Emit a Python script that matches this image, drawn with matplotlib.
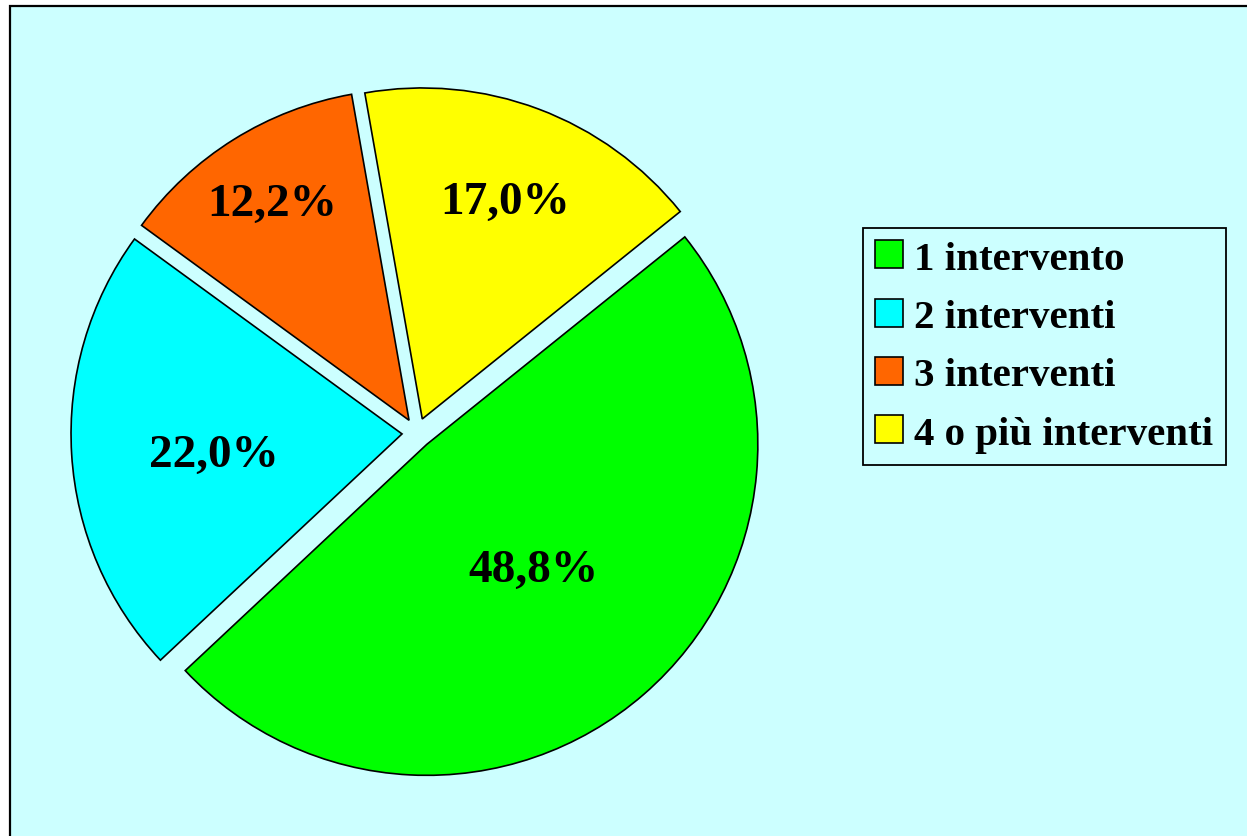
import numpy as np
import matplotlib
matplotlib.use("Agg")
import matplotlib.pyplot as plt
from matplotlib.patches import Rectangle

categories = ["1 intervento", "2 interventi", "3 interventi", "4 o più interventi"]
values = [48.8, 22.0, 12.2, 17.0]
pct_labels = ["48,8%", "22,0%", "12,2%", "17,0%"]
colors = ["#00FF00", "#00FFFF", "#FF6600", "#FFFF00"]
label_frac = [0.49, 0.57, 0.78, 0.71]
label_dangle = [0.0, 2.0, 0.0, 0.0]

W, H = 1247, 837
fig = plt.figure(figsize=(W / 100, H / 100), dpi=100)
fig.patch.set_facecolor("white")
ax = fig.add_axes([0, 0, 1, 1])

serif = ["Liberation Serif", "DejaVu Serif"]

center = (417, H - 434)
radius = 331
expl = 15

wedges, _ = ax.pie(values, colors=colors, startangle=38.8, counterclock=False,
                   center=center, radius=radius, explode=[expl] * len(values),
                   wedgeprops=dict(edgecolor="black", linewidth=1.2),
                   frame=True)

for w, lab, frac, da in zip(wedges, pct_labels, label_frac, label_dangle):
    th = np.deg2rad((w.theta1 + w.theta2) / 2 + da)
    cx, cy = w.center
    ax.text(cx + frac * w.r * np.cos(th), cy + frac * w.r * np.sin(th) - 3, lab,
            ha="center", va="center", fontsize=34, fontweight="bold",
            family=serif, color="black")

ax.add_patch(Rectangle((10, -10), W + 20, H - 7 + 10, facecolor="#CCFFFF",
                       edgecolor="black", linewidth=1.6, zorder=0, clip_on=False))

ax.set_xlim(0, W)
ax.set_ylim(0, H)
ax.set_aspect("equal")
ax.axis("off")

leg = ax.legend(wedges, categories, loc="upper left",
                bbox_to_anchor=(863, H - 229), bbox_transform=ax.transData,
                borderaxespad=0, frameon=True, fancybox=False,
                facecolor="#CCFFFF", edgecolor="black", framealpha=1,
                prop=dict(family=serif, weight="bold", size=29.5),
                handlelength=0.68, handleheight=0.68, handletextpad=0.27,
                labelspacing=0.51, borderpad=0.3)
leg.get_frame().set_linewidth(1.3)

fig.savefig("out.png", dpi=100, facecolor="white")
